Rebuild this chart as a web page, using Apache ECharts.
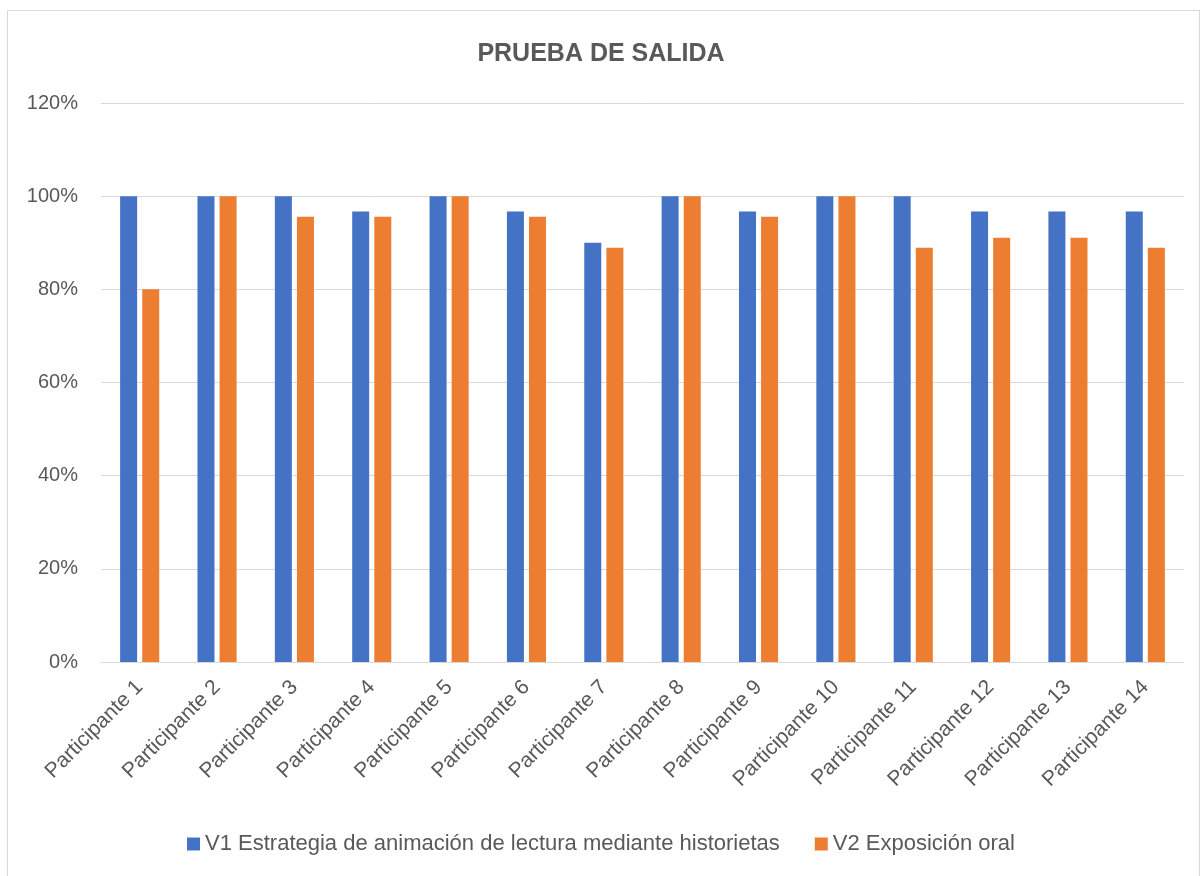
<!DOCTYPE html>
<html>
<head>
<meta charset="utf-8">
<script src="https://cdn.jsdelivr.net/npm/echarts@6/dist/echarts.min.js"></script>
<style>
  html, body { margin: 0; padding: 0; background: #fff; }
  #frame { position: absolute; left: 7px; top: 10px; width: 1193px; height: 880px; border: 1px solid #d9d9d9; box-sizing: border-box; }
  #chart { position: absolute; left: 0; top: 0; width: 1202px; height: 876px; }
</style>
</head>
<body>
<div id="frame"></div>
<div id="chart"></div>
<script>
const categories = ['Participante 1', 'Participante 2', 'Participante 3', 'Participante 4', 'Participante 5',
  'Participante 6', 'Participante 7', 'Participante 8', 'Participante 9', 'Participante 10',
  'Participante 11', 'Participante 12', 'Participante 13', 'Participante 14'];
const v1Name = 'V1 Estrategia de animación de lectura mediante historietas';
const v2Name = 'V2 Exposición oral';
const v1Values = [100, 100, 100, 96.7, 100, 96.7, 90, 100, 96.7, 100, 100, 96.7, 96.7, 96.7];
const v2Values = [80, 100, 95.6, 95.6, 100, 95.6, 88.9, 100, 95.6, 100, 88.9, 91.1, 91.1, 88.9];

function renderChart() {
  const chart = echarts.init(document.getElementById('chart'));
  const font = 'Liberation Sans';
  chart.setOption({
    animation: false,
    textStyle: { fontFamily: font },
    title: {
      text: 'PRUEBA DE SALIDA',
      left: 'center',
      top: 37,
      textStyle: { fontSize: 25, fontWeight: 'bold', color: '#595959', fontFamily: font }
    },
    legend: {
      bottom: 16,
      left: 'center',
      itemWidth: 13,
      itemHeight: 13,
      itemGap: 35,
      icon: 'rect',
      textStyle: { fontSize: 22, color: '#595959', fontFamily: font },
      data: [v1Name, v2Name]
    },
    grid: { left: 101, right: 18, top: 103, bottom: 214 },
    xAxis: {
      type: 'category',
      data: categories,
      axisTick: { show: false },
      axisLine: { lineStyle: { color: '#d9d9d9', width: 1 } },
      axisLabel: { rotate: 45, fontSize: 21, color: '#595959', margin: 22, interval: 0 }
    },
    yAxis: {
      type: 'value',
      min: 0,
      max: 120,
      interval: 20,
      axisLabel: { formatter: '{value}%', fontSize: 20, color: '#595959', margin: 23 },
      splitLine: { lineStyle: { color: '#d9d9d9', width: 1 } },
      axisLine: { show: false },
      axisTick: { show: false }
    },
    series: [
      {
        name: v1Name,
        type: 'bar',
        data: v1Values,
        barWidth: 17,
        barGap: '30%',
        itemStyle: { color: '#4472c4' }
      },
      {
        name: v2Name,
        type: 'bar',
        data: v2Values,
        barWidth: 17,
        itemStyle: { color: '#ed7d31' }
      }
    ]
  });
  window.addEventListener('resize', () => chart.resize());
}

renderChart();
</script>
</body>
</html>
